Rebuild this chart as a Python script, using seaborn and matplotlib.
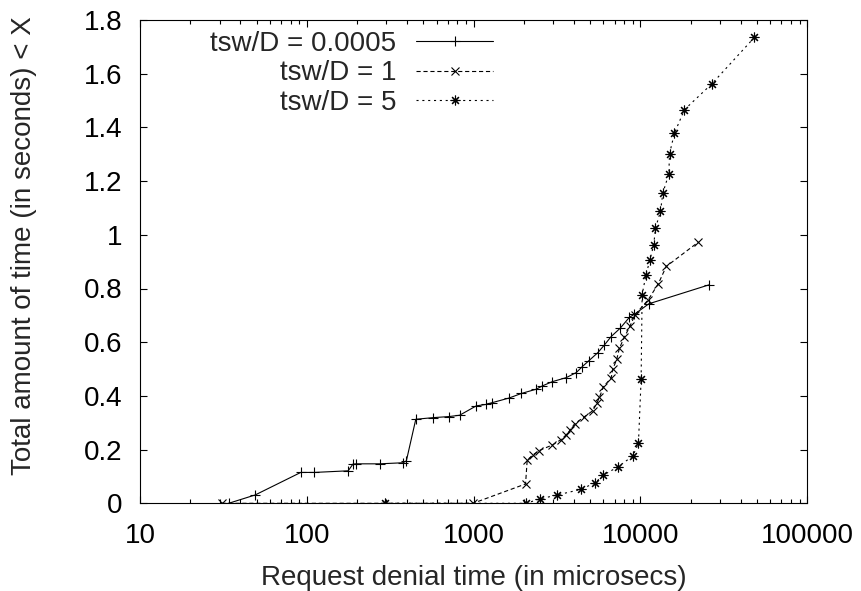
import matplotlib
matplotlib.use('Agg')
import matplotlib.pyplot as plt
import seaborn as sns
from matplotlib.ticker import FixedLocator, FixedFormatter, LogLocator, NullFormatter

# Request denial time (microsecs) vs. cumulative total time (s)
s1_label = 'tsw/D = 0.0005'
s1_x = [34, 49, 92, 111, 177, 189, 198, 273, 377, 395, 450, 571, 711, 824, 1038, 1180,
        1294, 1629, 1931, 2373, 2577, 2960, 3590, 4123, 4479, 4903, 5550, 6085, 6671,
        7556, 8590, 9204, 11220, 25880]
s1_y = [0, 0.031, 0.115, 0.115, 0.121, 0.146, 0.147, 0.147, 0.151, 0.158, 0.313, 0.319,
        0.323, 0.328, 0.363, 0.368, 0.375, 0.392, 0.409, 0.425, 0.437, 0.453, 0.468,
        0.487, 0.509, 0.531, 0.561, 0.590, 0.621, 0.652, 0.693, 0.704, 0.743, 0.814]

s2_label = 'tsw/D = 1'
s2_x = [30.8, 991, 2047, 2094, 2264, 2460, 2957, 3318, 3588, 3792, 4025, 4558, 5180,
        5473, 5680, 6000, 6668, 6820, 7210, 7480, 8013, 8668, 9290, 11100, 12800,
        14270, 22240]
s2_y = [0, 0, 0.072, 0.161, 0.180, 0.196, 0.217, 0.236, 0.255, 0.273, 0.296, 0.320,
        0.345, 0.373, 0.395, 0.435, 0.466, 0.499, 0.537, 0.578, 0.619, 0.661, 0.703,
        0.757, 0.818, 0.882, 0.973]

s3_label = 'tsw/D = 5'
s3_x = [296, 2066, 2484, 3169, 4413, 5350, 6000, 7380, 8993, 9725, 10090, 10230, 10790,
        11400, 12010, 12300, 13180, 13610, 14790, 14930, 15990, 18350, 26860, 48170]
s3_y = [0, 0, 0.016, 0.031, 0.052, 0.077, 0.105, 0.137, 0.176, 0.224, 0.463, 0.777,
        0.851, 0.907, 0.963, 1.025, 1.087, 1.155, 1.227, 1.302, 1.379, 1.466, 1.563,
        1.735]

x_ticks = [10, 100, 1000, 10000, 100000]
x_tick_labels = ['10', '100', '1000', '10000', '100000']
y_ticks = [0, 0.2, 0.4, 0.6, 0.8, 1.0, 1.2, 1.4, 1.6, 1.8]
y_tick_labels = ['0', '0.2', '0.4', '0.6', '0.8', '1', '1.2', '1.4', '1.6', '1.8']

sns.set_style('ticks')
plt.rcParams['font.family'] = ['Liberation Sans', 'DejaVu Sans']
plt.rcParams['font.size'] = 20
plt.rcParams['lines.scale_dashes'] = False

fig = plt.figure(figsize=(8.62, 5.91), dpi=100)
ax = fig.add_axes([140 / 862, 1 - 503.3 / 591, 667.3 / 862, 483.3 / 591])
ax.set_xscale('log')

common = dict(ax=ax, color='black', sort=False, estimator=None, linewidth=0.8,
              markeredgecolor='black', markeredgewidth=0.8)
sns.lineplot(x=s1_x, y=s1_y, label=s1_label, marker='+', markersize=6.5,
             linestyle='-', **common)
sns.lineplot(x=s2_x, y=s2_y, label=s2_label, marker='x', markersize=6,
             linestyle=(0, (3, 2)), **common)
sns.lineplot(x=s3_x, y=s3_y, label=s3_label, marker=(8, 2, 0), markersize=7,
             linestyle=(0, (1.5, 2.7)), **common)

ax.set_xlim(10, 100000)
ax.set_ylim(0, 1.8)
ax.xaxis.set_major_locator(FixedLocator(x_ticks))
ax.xaxis.set_major_formatter(FixedFormatter(x_tick_labels))
ax.xaxis.set_minor_locator(LogLocator(base=10, subs=range(2, 10)))
ax.xaxis.set_minor_formatter(NullFormatter())
ax.yaxis.set_major_locator(FixedLocator(y_ticks))
ax.yaxis.set_major_formatter(FixedFormatter(y_tick_labels))

ax.tick_params(which='both', direction='in', top=True, right=True, width=0.8, colors='black')
ax.tick_params(axis='x', which='major', length=5.3, pad=14, labelsize=20)
ax.tick_params(axis='x', which='minor', length=2.9)
ax.tick_params(axis='y', which='major', length=5.3, pad=12.7, labelsize=20)
for sp in ax.spines.values():
    sp.set_linewidth(0.8)
    sp.set_color('black')

ax.set_xlabel('Request denial time (in microsecs)', fontsize=20)
ax.set_ylabel('Total amount of time (in seconds) < X', fontsize=20)
ax.xaxis.set_label_coords(0.5, -0.127)
ax.yaxis.set_label_coords(-0.155, 0.534)

handles, labels = ax.get_legend_handles_labels()
ax.legend(handles, labels, loc='upper right', bbox_to_anchor=((493 - 140) / 667.3, (503.3 - 31) / 483.3),
          frameon=False, markerfirst=False, handlelength=2.77, handletextpad=0.7,
          labelspacing=0.12, borderpad=0, borderaxespad=0, fontsize=20)

fig.savefig('out.png', dpi=100)
